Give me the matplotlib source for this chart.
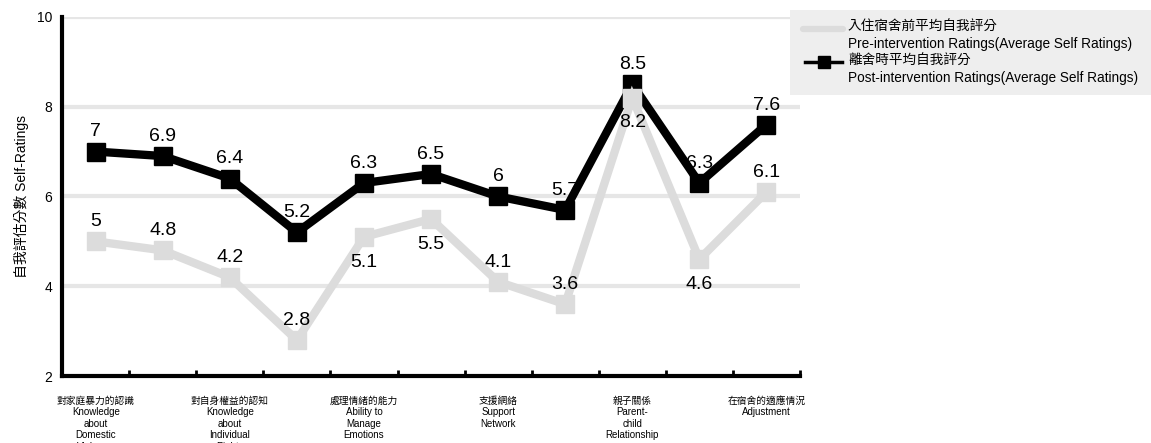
import numpy as np
import matplotlib.pyplot as plt
from matplotlib.lines import Line2D
from matplotlib.patches import Rectangle
from matplotlib.ticker import FixedLocator

plt.rcParams['font.family'] = ['Liberation Sans', 'Noto Sans CJK TC', 'DejaVu Sans']

# Average self ratings per item
pre = [5, 4.8, 4.2, 2.8, 5.1, 5.5, 4.1, 3.6, 8.2, 4.6, 6.1]
post = [7, 6.9, 6.4, 5.2, 6.3, 6.5, 6, 5.7, 8.5, 6.3, 7.6]
# which pre-intervention labels go under the point
pre_below = [False, False, False, False, True, True, False, False, True, True, False]

# category names only shown on every second item
cat_pos = [0, 2, 4, 6, 8, 10]
cat_labels = [
    '對家庭暴力的認識\nKnowledge\nabout\nDomestic\nViolence',
    '對自身權益的認知\nKnowledge\nabout\nIndividual\nRights',
    '處理情緒的能力\nAbility to\nManage\nEmotions',
    '支援網絡\nSupport\nNetwork',
    '親子關係\nParent-\nchild\nRelationship',
    '在宿舍的適應情況\nAdjustment',
]
pre_name = ['入住宿舍前平均自我評分', 'Pre-intervention Ratings(Average Self Ratings)']
post_name = ['離舍時平均自我評分', 'Post-intervention Ratings(Average Self Ratings)']

fig = plt.figure(figsize=(11.51, 4.43), dpi=100)
ax = fig.add_axes([0.054, 0.151, 0.641, 0.811])

x = np.arange(len(pre))
gray = '#dcdcdc'

ax.plot(x, post, color='black', lw=6, marker='s', ms=12.5,
        solid_joinstyle='miter', zorder=3)
ax.plot(x, pre, color=gray, lw=6, marker='s', ms=12.5,
        solid_joinstyle='miter', zorder=4)

for xi, v in zip(x, post):
    ax.annotate(f'{v:g}', (xi, v), xytext=(0, 8), textcoords='offset points',
                ha='center', va='bottom', fontsize=14, zorder=5)
for xi, v, below in zip(x, pre, pre_below):
    dy, va = (-12, 'top') if below else (8, 'bottom')
    ax.annotate(f'{v:g}', (xi, v), xytext=(0, dy), textcoords='offset points',
                ha='center', va=va, fontsize=14, zorder=5)

ax.set_xlim(-0.5, len(pre) - 0.5)
ax.set_ylim(2, 10)
ax.set_yticks([2, 4, 6, 8, 10])
ax.tick_params(axis='y', length=0, labelsize=10, pad=7)
for yv in [4, 6, 8, 10]:
    ax.axhline(yv, color='#e6e6e6', lw=3, zorder=1)

ax.set_xticks(cat_pos)
ax.set_xticklabels(cat_labels, fontsize=7, linespacing=1.2)
ax.tick_params(axis='x', which='major', length=0, pad=14)
ax.xaxis.set_minor_locator(FixedLocator(np.arange(-0.5, len(pre), 1.0)))
ax.tick_params(axis='x', which='minor', direction='in', length=4, width=2, color='black')

for side in ['top', 'right']:
    ax.spines[side].set_visible(False)
ax.spines['left'].set_linewidth(3)
ax.spines['bottom'].set_linewidth(3)

ax.set_ylabel('自我評估分數 Self-Ratings', fontsize=10, labelpad=6)

# legend box in figure pixels, handles sit on the first line of each entry
W, H = 1151, 443
def fx(px):
    return px / W
def fy(py):
    return 1 - py / H

fig.patches.append(Rectangle((fx(790), fy(95)), fx(1151) - fx(790), fy(10) - fy(95),
                             transform=fig.transFigure, facecolor='#eeeeee',
                             edgecolor='none', zorder=0))
fig.lines.append(Line2D([fx(803), fx(843)], [fy(29), fy(29)], transform=fig.transFigure,
                        color=gray, lw=4.5, solid_capstyle='round'))
fig.lines.append(Line2D([fx(805), fx(842)], [fy(62), fy(62)], transform=fig.transFigure,
                        color='black', lw=2.5))
fig.lines.append(Line2D([fx(823.5)], [fy(62)], transform=fig.transFigure,
                        color='black', marker='s', ms=9, lw=0))
for name, top in [(pre_name, 27), (post_name, 61)]:
    fig.text(fx(848), fy(top), name[0], fontsize=9.8, ha='left', va='center')
    fig.text(fx(848), fy(top + 17), name[1], fontsize=9.8, ha='left', va='center')

fig.savefig('out.png', dpi=100)
